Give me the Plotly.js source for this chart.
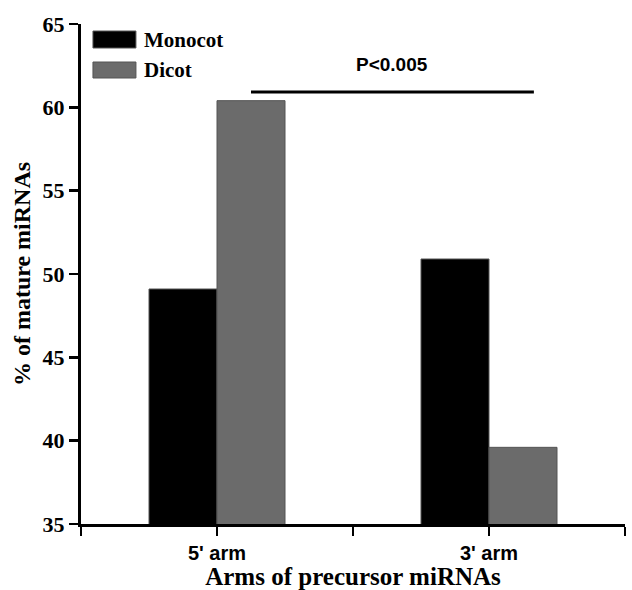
<!DOCTYPE html>
<html>
<head>
<meta charset="utf-8">
<script src="https://cdn.plot.ly/plotly-3.0.1.min.js"></script>
<style>html,body{margin:0;padding:0;background:#fff;}#chart{width:632px;height:590px;}</style>
</head>
<body>
<div id="chart"></div>
<script>
const categories = ["5' arm", "3' arm"];
const seriesNames = ["Monocot", "Dicot"];
const monocot = [49.1, 50.9];
const dicot = [60.4, 39.6];
const pText = "P<0.005";
const yTicks = [35, 40, 45, 50, 55, 60, 65];

const serif = "Liberation Serif";
const sans = "Liberation Sans";
const colors = ["#000000", "#6b6b6b"];

const xPos = categories.map((c, i) => i);
const tickVals = [-0.5];
const tickText = [""];
categories.forEach((c, i) => {
  tickVals.push(i); tickText.push("<b>" + c + "</b>");
  tickVals.push(i + 0.5); tickText.push("");
});

const traces = [monocot, dicot].map((vals, k) => ({
  type: "bar",
  x: xPos,
  y: vals,
  name: seriesNames[k],
  marker: { color: colors[k], line: { color: "#555555", width: 1 } },
  showlegend: false,
  hoverinfo: "skip"
}));

const legendShapes = [];
const legendAnn = [];
const lgY = [[0.952, 0.986], [0.892, 0.924]];
const lgTextY = [0.968, 0.908];
seriesNames.forEach((n, k) => {
  legendShapes.push({
    type: "rect", xref: "paper", yref: "paper",
    x0: 0.022, x1: 0.101, y0: lgY[k][0], y1: lgY[k][1],
    fillcolor: colors[k], line: { color: "#555555", width: 1 }
  });
  legendAnn.push({
    xref: "paper", yref: "paper", x: 0.112, y: lgTextY[k],
    xanchor: "left", yanchor: "middle", showarrow: false,
    text: "<b>" + n + "</b>",
    font: { family: serif, size: 21, color: "#000" }
  });
});

const layout = {
  width: 632, height: 590,
  margin: { l: 81, r: 7, t: 24, b: 66 },
  paper_bgcolor: "#fff", plot_bgcolor: "#fff",
  barmode: "group", bargap: 0.5, bargroupgap: 0,
  xaxis: {
    range: [-0.5, 1.5], tickvals: tickVals, ticktext: tickText,
    showgrid: false, zeroline: false,
    showline: true, linecolor: "#000", linewidth: 3,
    ticks: "outside", ticklen: 9, tickwidth: 2.5, tickcolor: "#000",
    tickfont: { family: sans, size: 20, color: "#000" },
    title: { text: "<b>Arms of precursor miRNAs</b>", font: { family: serif, size: 25, color: "#000" }, standoff: 6 }
  },
  yaxis: {
    range: [35, 65], tickvals: yTicks, ticktext: yTicks.map(v => "<b>" + v + "</b>"),
    showgrid: false, zeroline: false,
    showline: true, linecolor: "#000", linewidth: 3,
    ticks: "outside", ticklen: 9, tickwidth: 2.5, tickcolor: "#000",
    tickfont: { family: serif, size: 22, color: "#000" },
    title: { text: "<b>% of mature miRNAs</b>", font: { family: serif, size: 24, color: "#000" }, standoff: 6 }
  },
  shapes: [{
    type: "line", xref: "x", yref: "y",
    x0: 0.125, x1: 1.165, y0: 60.92, y1: 60.92,
    line: { color: "#000", width: 3 }
  }].concat(legendShapes),
  annotations: [{
    xref: "x", yref: "y", x: 0.645, y: 62.6,
    xanchor: "center", yanchor: "middle", showarrow: false,
    text: "<b>" + pText + "</b>",
    font: { family: sans, size: 19, color: "#000" }
  }].concat(legendAnn)
};

Plotly.newPlot("chart", traces, layout, { displayModeBar: false, staticPlot: true });
</script>
</body>
</html>
